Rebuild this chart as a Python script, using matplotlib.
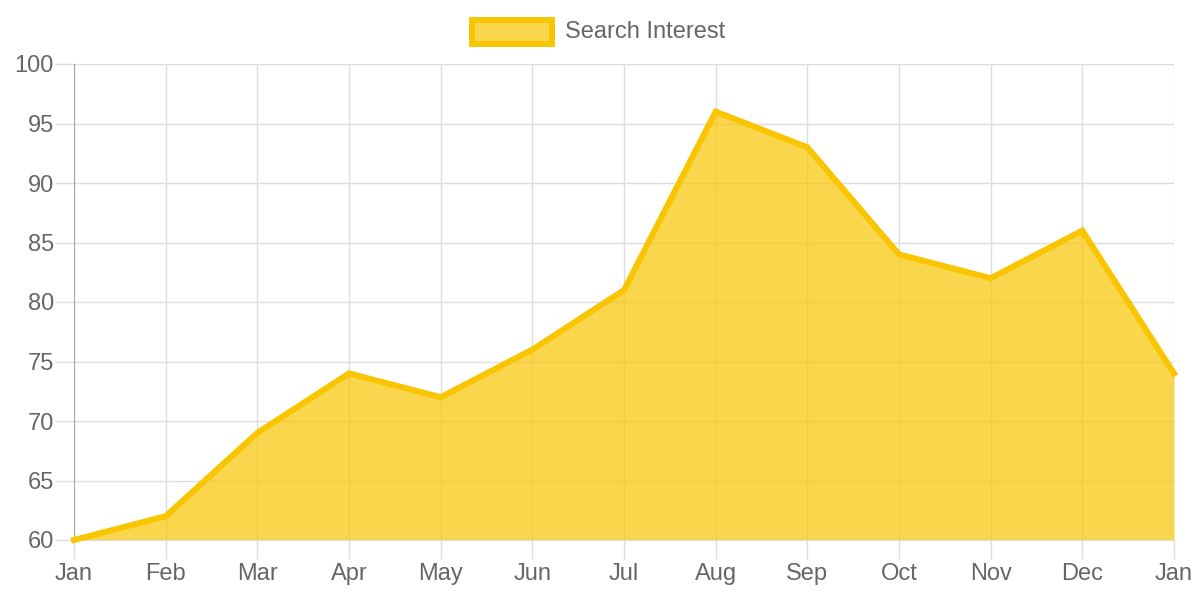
import matplotlib.pyplot as plt
from matplotlib.patches import Rectangle

# data
months = ["Jan", "Feb", "Mar", "Apr", "May", "Jun", "Jul",
          "Aug", "Sep", "Oct", "Nov", "Dec", "Jan"]
interest = [60, 62, 69, 74, 72, 76, 81, 96, 93, 84, 82, 86, 74]
y_ticks = [60, 65, 70, 75, 80, 85, 90, 95, 100]
series_name = "Search Interest"

line_color = "#F8C500"
grid_color = "#DDDDDD"
text_color = "#666666"

plt.rcParams['font.family'] = ['Liberation Sans', 'DejaVu Sans']

fig = plt.figure(figsize=(12, 6), dpi=100)
ax = fig.add_axes([74 / 1200, 60 / 600, 1100 / 1200, 476 / 600])

x = list(range(len(months)))
ax.fill_between(x, interest, 60, color=line_color, alpha=0.7, lw=0, zorder=2)
ax.plot(x, interest, color=line_color, lw=4.3, solid_joinstyle='miter',
        zorder=3, clip_on=False)

ax.set_xlim(0, len(months) - 1)
ax.set_ylim(60, 100)
ax.set_xticks(x)
ax.set_xticklabels(months)
ax.set_yticks(y_ticks)

ax.grid(True, color=grid_color, lw=1, zorder=0)
ax.set_axisbelow(True)
ax.tick_params(axis='both', colors=grid_color, labelcolor=text_color,
               labelsize=17, length=13.5, width=1)
ax.tick_params(axis='x', pad=3)
ax.tick_params(axis='y', pad=1)

for side in ("top", "right"):
    ax.spines[side].set_visible(False)
ax.spines["left"].set_color("#A8A8A8")
ax.spines["bottom"].set_color(grid_color)

# legend box drawn by hand, Chart.js style
fig.patches.append(Rectangle((472 / 1200, 1 - 44 / 600), 80 / 1200, 24 / 600,
                             transform=fig.transFigure, facecolor="#FAD64D",
                             edgecolor=line_color, lw=4.3))
fig.text(565 / 1200, 1 - 32 / 600, series_name, color=text_color,
         fontsize=17, va='center', ha='left')

fig.savefig("out.png", dpi=100)
